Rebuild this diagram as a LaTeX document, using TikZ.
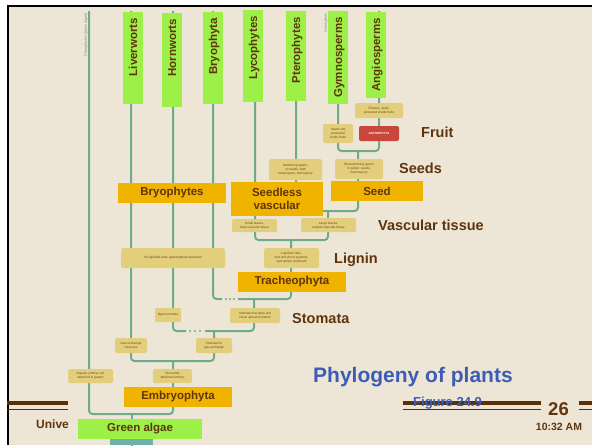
\documentclass[tikz,border=0pt]{standalone}
\usepackage{fontspec}
\setmainfont{Liberation Sans}
\definecolor{bg}{RGB}{237,230,214}
\definecolor{brn}{RGB}{96,52,12}
\definecolor{rule}{RGB}{90,48,5}
\definecolor{limeg}{RGB}{156,240,72}
\definecolor{orng}{RGB}{240,180,0}
\definecolor{tanb}{RGB}{227,206,124}
\definecolor{tant}{RGB}{100,72,30}
\definecolor{redb}{RGB}{200,70,58}
\definecolor{treeg}{RGB}{112,170,140}
\definecolor{blu}{RGB}{62,92,182}
\definecolor{tealb}{RGB}{110,180,165}
\begin{document}
\begin{tikzpicture}[x=1pt,y=-1pt,
  tree/.style={draw=treeg, line width=2pt, rounded corners=3.5pt},
  gbox/.style={fill=limeg, minimum width=20pt, inner sep=0pt},
  glabel/.style={rotate=90, anchor=east, text=brn, inner sep=0pt,
     text height=8.3pt, text depth=0pt, font=\fontsize{11.5}{13}\selectfont\bfseries},
  obox/.style={fill=orng, text=brn, inner sep=0pt, align=center,
     font=\fontsize{11.5}{12.5}\selectfont\bfseries},
  tbox/.style={fill=tanb, rounded corners=1.5pt, inner sep=0pt, text=tant, align=center,
     font=\fontsize{3.2}{3.9}\selectfont},
  mlabel/.style={anchor=base west, text=brn, inner sep=0pt,
     font=\fontsize{14.5}{16}\selectfont\bfseries},
  tiny/.style={rotate=90, anchor=east, text=gray, inner sep=0pt, font=\fontsize{3.6}{4}\selectfont},
  dotmark/.style={fill=treeg}
]
\path[use as bounding box] (0,0) rectangle (592,445);
\fill[white] (0,0) rectangle (592,445);
\fill[bg] (7,5) rectangle (592,445);
\fill[black] (7,5) rectangle (592,7.3);
\fill[black] (7,5) rectangle (9.3,445);

% tip coordinates
\coordinate (cT) at (89,11);
\coordinate (lT) at (131,11);
\coordinate (hT) at (173,11);
\coordinate (bT) at (213,11);
\coordinate (yT) at (255,11);
\coordinate (pT) at (296,11);
\coordinate (gT) at (338,11);
\coordinate (aT) at (379,11);
% junctions
\coordinate (sjS) at (358,151);
\coordinate (J1) at (358,211);
\coordinate (ejS) at (328,211);
\coordinate (J2) at (328,240);
\coordinate (tjS) at (291,240);
\coordinate (b1) at (222,299);
\coordinate (b2) at (238,299);
\coordinate (J3) at (291,299);
\coordinate (stS) at (254,299);
\coordinate (h1) at (186,331);
\coordinate (h2) at (205,331);
\coordinate (J4) at (254,331);
\coordinate (sgS) at (214,331);
\coordinate (J5) at (214,361);
\coordinate (emS) at (173,361);
\coordinate (J6) at (173,414);
\coordinate (rS) at (132,414);
\coordinate (rB) at (132,446);

% tree
\draw[tree] (gT) |- (sjS) -| (aT);
\draw[tree] (pT) |- (J1) -- (sjS);
\draw[tree] (yT) |- (J2) -- (ejS);
\draw[tree] (bT) |- (b1);
\draw[tree] (b2) -- (J3) -- (tjS);
\draw[tree] (hT) |- (h1);
\draw[tree] (h2) -- (J4) -- (stS);
\draw[tree] (lT) |- (J5) -- (sgS);
\draw[tree] (cT) |- (J6) -- (emS);
\draw[tree] (rS) -- (rB);
\foreach \xx in {226,230,234} \fill[dotmark] (\xx,299) circle (1.1pt);
\foreach \xx in {190,195,200} \fill[dotmark] (\xx,331) circle (1.1pt);

% tiny rotated labels
\node[tiny] (chl) at (86,13) {Charophytes (green algae)};
\node[tiny] (spl) at (326,13) {Seed plants};

% green label boxes
\node[gbox, minimum height=92pt] (lvb) at (133,58) {};
\node[glabel] (lvt) at ([yshift=-6pt]lvb.north) {Liverworts};
\node[gbox, minimum height=94pt] (hwb) at (172,60) {};
\node[glabel] (hwt) at ([yshift=-6pt]hwb.north) {Hornworts};
\node[gbox, minimum height=92pt] (bpb) at (213,58) {};
\node[glabel] (bpt) at ([yshift=-6pt]bpb.north) {Bryophyta};
\node[gbox, minimum height=92pt] (lyb) at (253,56) {};
\node[glabel] (lyt) at ([yshift=-6pt]lyb.north) {Lycophytes};
\node[gbox, minimum height=90pt] (ptb) at (296,56) {};
\node[glabel] (ptt) at ([yshift=-6pt]ptb.north) {Pterophytes};
\node[gbox, minimum height=93pt] (gyb) at (338,57.5) {};
\node[glabel] (gyt) at ([yshift=-6pt]gyb.north) {Gymnosperms};
\node[gbox, minimum height=86pt] (anb) at (376,55) {};
\node[glabel] (ant) at ([yshift=-6pt]anb.north) {Angiosperms};

% tan character boxes
\node[tbox, minimum width=48pt, minimum height=15pt] (fl) at (379,110.5) {Flowers, seed,\\protected inside fruits};
\node[fill=redb, rounded corners=2pt, inner sep=0pt, minimum width=40pt, minimum height=15pt,
      text=white, font=\fontsize{3}{3.7}\selectfont\bfseries] (antho) at (379,133.5) {ANTHOPHYTA};
\node[tbox, minimum width=30pt, minimum height=19pt] (sn) at (338,133.5) {Seeds not\\protected\\inside fruits};
\node[tbox, minimum width=48pt, minimum height=20pt] (ns) at (359,169) {Nonswimming sperm\\in pollen, seeds,\\heterospory};
\node[tbox, minimum width=53pt, minimum height=21pt] (sw) at (295.5,169.5) {Swimming sperm,\\no seeds, both\\heterospory, homospory};
\node[tbox, minimum width=45pt, minimum height=13pt] (sl) at (254.5,225.5) {Small leaves,\\stele vascular tissue};
\node[tbox, minimum width=55pt, minimum height=14pt] (ll) at (328.5,225) {Large leaves,\\eustele vascular tissue};
\node[tbox, minimum width=55pt, minimum height=20pt] (lg) at (291.5,258) {Lignified cells,\\root and shoot systems,\\sporophyte dominant};
\node[tbox, minimum width=104pt, minimum height=20pt] (nl) at (173,258) {No lignified cells, gametophyte dominant};
\node[tbox, minimum width=26pt, minimum height=14pt] (os) at (168,315) {Open stomata};
\node[tbox, minimum width=50pt, minimum height=15pt] (sc) at (255,315.5) {Stomata that open and\\close; apical meristem};
\node[tbox, minimum width=36pt, minimum height=15pt] (sg) at (214,345.5) {Stomata for\\gas exchange};
\node[tbox, minimum width=32pt, minimum height=15pt] (ge) at (131,345.5) {Gas exchange\\via pores};
\node[tbox, minimum width=39pt, minimum height=14pt] (te) at (172.5,376) {Terrestrial,\\attached embryo};
\node[tbox, minimum width=45pt, minimum height=14pt] (aq) at (90.5,376) {Aquatic embryo not\\attached to parent};

% orange group boxes
\node[obox, minimum width=108pt, minimum height=20pt] (bryo) at (172,193) {Bryophytes};
\node[obox, minimum width=92pt, minimum height=34pt] (sv) at (277,199) {Seedless\\vascular};
\node[obox, minimum width=92pt, minimum height=20pt] (seed) at (377,191) {Seed};
\node[obox, minimum width=108pt, minimum height=20pt] (trach) at (292,282) {Tracheophyta};
\node[obox, minimum width=108pt, minimum height=20pt] (embr) at (178,397) {Embryophyta};

% green algae
\fill[tealb] (110,439) rectangle (153,445);
\node[fill=limeg, text=brn, inner sep=0pt, minimum width=124pt, minimum height=20pt,
      font=\fontsize{11.5}{12.5}\selectfont\bfseries] (ga) at (140,429) {Green algae};

% trait labels
\node[mlabel] (fruit) at (421,137) {Fruit};
\node[mlabel] (seeds) at (399,173) {Seeds};
\node[mlabel] (vasc) at (378,230) {Vascular tissue};
\node[mlabel] (lign) at (334,263) {Lignin};
\node[mlabel] (stom) at (292,323) {Stomata};

% footer
\fill[rule] (7,401) rectangle (68,405);
\fill[rule] (7,408.5) rectangle (68,410.3);
\fill[rule] (403,401) rectangle (541,405);
\fill[rule] (403,408.5) rectangle (541,410.3);
\fill[rule] (579,401) rectangle (592,405);
\fill[rule] (579,408.5) rectangle (592,410.3);
\node[anchor=base west, text=brn, inner sep=0pt, font=\fontsize{12}{13}\selectfont\bfseries] (univ) at (36,428) {Unive};
\node[anchor=base west, text=blu, inner sep=0pt, font=\fontsize{21}{24}\selectfont\bfseries] (title) at (313,382) {Phylogeny of plants};
\node[anchor=base west, text=blu, inner sep=0pt, font=\fontsize{13}{15}\selectfont\bfseries] (fig) at (413,406) {Figure 24.9};
\node[anchor=base, text=brn, inner sep=0pt, font=\fontsize{18.5}{20}\selectfont\bfseries] (pg) at (558.5,415) {26};
\node[anchor=base, text=brn, inner sep=0pt, font=\fontsize{10.5}{12}\selectfont\bfseries] (tm) at (559,430) {10:32 AM};
\end{tikzpicture}
\end{document}
